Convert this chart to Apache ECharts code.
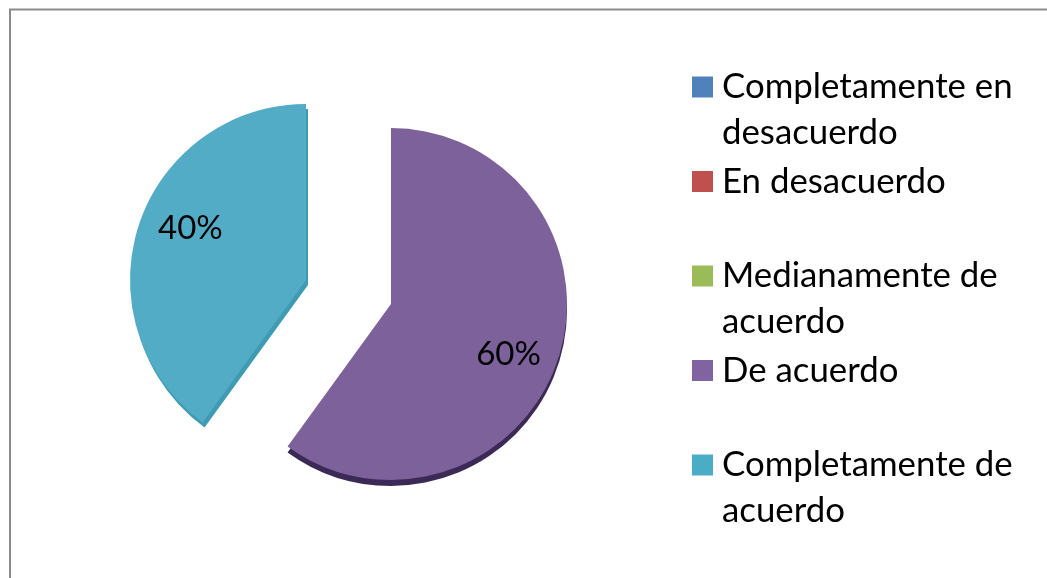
<!DOCTYPE html>
<html>
<head>
<meta charset="utf-8">
<style>
  html, body { margin: 0; padding: 0; background: #fff; }
  #chart { width: 1047px; height: 578px; }
</style>
<script src="https://cdn.jsdelivr.net/npm/echarts@6/dist/echarts.min.js"></script>
</head>
<body>
<div id="chart"></div>
<script>
const categories = ['Completamente en desacuerdo', 'En desacuerdo', 'Medianamente de acuerdo', 'De acuerdo', 'Completamente de acuerdo']
const values = [0, 0, 0, 60, 40]
const colors = ['#4f81bd', '#c0504d', '#9bbb59', '#8064a2', '#4bacc6']
const legendLines = [
  'Completamente en\ndesacuerdo',
  'En desacuerdo\n',
  'Medianamente de\nacuerdo',
  'De acuerdo\n',
  'Completamente de\nacuerdo'
]
const fontFamily = 'Lato'

// one pie per exploded slice, only slice `index` is painted
function slicePie(index, center, color, label) {
  return {
    type: 'pie',
    silent: true,
    animation: false,
    radius: 176,
    center: center,
    startAngle: 90,
    clockwise: true,
    label: { show: false },
    labelLine: { show: false },
    data: values.map((value, i) => ({
      // the depth layers stay out of the legend
      name: label ? categories[i] : '',
      value: value,
      itemStyle: { color: i === index ? color : 'transparent' },
      label: i === index && label ? {
        show: true,
        position: 'inner',
        formatter: '{d}%',
        color: '#000',
        fontSize: 33,
        fontFamily: fontFamily
      } : { show: false }
    })),
    labelLayout: label ? { dx: label[0], dy: label[1] } : undefined
  }
}

const chart = echarts.init(document.getElementById('chart'))
chart.setOption({
  backgroundColor: '#fff',
  legend: {
    orient: 'vertical',
    left: 692,
    top: 18,
    padding: 0,
    itemWidth: 21,
    itemHeight: 21,
    itemGap: -43.5,
    selectedMode: false,
    // the blank first line keeps the marker level with the first text line
    formatter: name => '\n' + legendLines[categories.indexOf(name)],
    textStyle: {
      color: '#000',
      fontSize: 34.8,
      lineHeight: 46,
      fontFamily: fontFamily,
      padding: [0, 0, 0, 4]
    },
    data: categories.map((name, i) => ({
      name: name,
      icon: 'rect',
      itemStyle: { color: colors[i] }
    }))
  },
  graphic: [{
    type: 'polyline',
    silent: true,
    shape: { points: [[10, 600], [10, 9.5], [1060, 9.5]] },
    style: { fill: 'none', stroke: '#8c8c8c', lineWidth: 2 }
  }],
  series: [
    slicePie(4, [308, 285], '#3f9bb3'),
    slicePie(3, [391, 310], '#3b2a55'),
    slicePie(4, [306, 280], '#53acc6', [-29, -24]),
    slicePie(3, [391, 304], '#7d619a', [31, 22])
  ]
})
</script>
</body>
</html>
